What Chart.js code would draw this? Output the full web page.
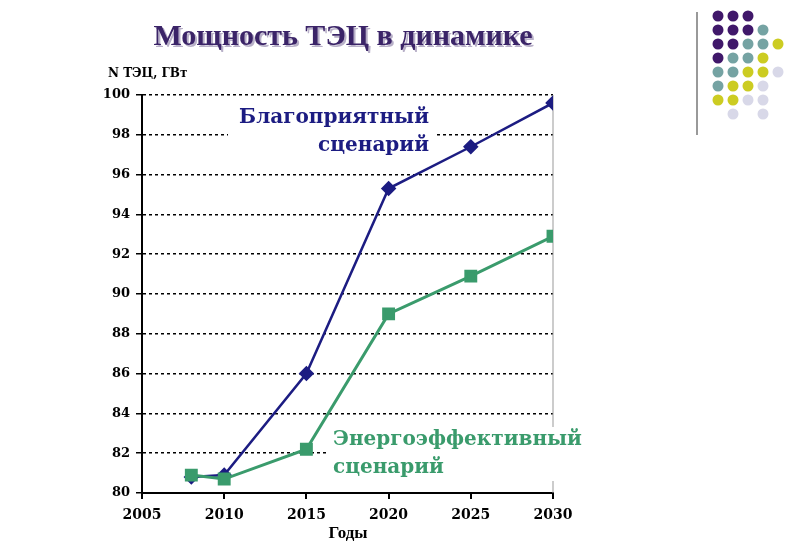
<!DOCTYPE html>
<html>
<head>
<meta charset="utf-8">
<script src="https://cdn.jsdelivr.net/npm/chart.js@4"></script>
<style>
body { margin: 0; background: #fff; }
#wrap { position: relative; width: 800px; height: 554px; }
</style>
</head>
<body>
<div id="wrap"><canvas id="chart" width="800" height="554"></canvas></div>
<script>
var years = [2008, 2010, 2015, 2020, 2025, 2030];
var favorable = [80.8, 80.9, 86.0, 95.3, 97.4, 99.6];
var efficient = [80.9, 80.7, 82.2, 89.0, 90.9, 92.9];
var xTicks = [2005, 2010, 2015, 2020, 2025, 2030];

var NAVY = '#1c1c82';
var GREEN = '#3a9b6c';
var SERIF = '"Liberation Serif", "DejaVu Serif", serif';
var WIDE = '"DejaVu Serif", serif';

function toPoints(vals) {
    var pts = [];
    for (var i = 0; i < years.length; i++) pts.push({ x: years[i], y: vals[i] });
    return pts;
}

var dots = [
    'PPP  ', 'PPPT ', 'PPTTY', 'PTTY ', 'TTYYL', 'TYYL ', 'YYLL ', ' L L '
];
var dotColors = { P: '#40186a', T: '#75a3a3', Y: '#cccc22', L: '#d8d8e8' };

var decor = {
    id: 'decor',
    beforeDatasetsDraw: function(chart) {
        var ctx = chart.ctx, a = chart.chartArea;
        ctx.save();
        // right frame line
        ctx.strokeStyle = '#999';
        ctx.lineWidth = 1;
        ctx.beginPath(); ctx.moveTo(a.right, a.top); ctx.lineTo(a.right, a.bottom); ctx.stroke();
        // label backgrounds hide grid
        ctx.fillStyle = '#fff';
        ctx.fillRect(228, 104, 206, 54);
        ctx.fillRect(328, 427, 270, 54);
        ctx.font = 'bold 20px ' + WIDE;
        ctx.textBaseline = 'middle';
        ctx.textAlign = 'right';
        ctx.fillStyle = NAVY;
        ctx.fillText('Благоприятный', 429, 118);
        ctx.fillText('сценарий', 429, 146);
        ctx.textAlign = 'left';
        ctx.fillStyle = GREEN;
        ctx.fillText('Энергоэффективный', 333, 440);
        ctx.fillText('сценарий', 333, 468);
        ctx.restore();
    },
    afterDraw: function(chart) {
        var ctx = chart.ctx;
        ctx.save();
        // title
        ctx.font = 'bold 30px ' + SERIF;
        ctx.textAlign = 'center';
        ctx.textBaseline = 'middle';
        ctx.fillStyle = '#b8b0c8';
        ctx.fillText('Мощность ТЭЦ в динамике', 345, 39);
        ctx.fillStyle = '#3b2468';
        ctx.fillText('Мощность ТЭЦ в динамике', 343, 37);
        // axis titles
        ctx.fillStyle = '#000';
        ctx.font = 'bold 12px ' + WIDE;
        ctx.textAlign = 'left';
        ctx.fillText('N ТЭЦ, ГВт', 108, 74);
        ctx.font = 'bold 17px ' + SERIF;
        ctx.textAlign = 'center';
        ctx.fillText('Годы', 348, 534);
        // side decoration
        ctx.strokeStyle = '#777';
        ctx.lineWidth = 1.5;
        ctx.beginPath(); ctx.moveTo(697, 12); ctx.lineTo(697, 135); ctx.stroke();
        for (var r = 0; r < dots.length; r++) {
            for (var c = 0; c < dots[r].length; c++) {
                var k = dots[r][c];
                if (k === ' ') continue;
                ctx.fillStyle = dotColors[k];
                ctx.beginPath();
                ctx.arc(718 + c * 15, 16 + r * 14, 5.5, 0, Math.PI * 2);
                ctx.fill();
            }
        }
        ctx.restore();
    }
};

new Chart(document.getElementById('chart'), {
    type: 'line',
    data: {
        datasets: [
            {
                label: 'Благоприятный сценарий',
                data: toPoints(favorable),
                borderColor: NAVY,
                backgroundColor: NAVY,
                borderWidth: 2.5,
                pointStyle: 'rectRot',
                pointRadius: 6,
                tension: 0,
                order: 2
            },
            {
                label: 'Энергоэффективный сценарий',
                data: toPoints(efficient),
                borderColor: GREEN,
                backgroundColor: GREEN,
                borderWidth: 3,
                pointStyle: 'rect',
                pointRadius: 7,
                tension: 0,
                order: 1
            }
        ]
    },
    options: {
        responsive: false,
        animation: false,
        layout: { padding: { left: 0, right: 247, top: 95, bottom: 0 } },
        plugins: { legend: { display: false }, tooltip: { enabled: false } },
        scales: {
            x: {
                type: 'linear',
                min: 2005,
                max: 2030,
                afterBuildTicks: function(axis) {
                    axis.ticks = xTicks.map(function(v) { return { value: v }; });
                },
                afterFit: function(axis) { axis.height = 61; },
                ticks: { color: '#000', font: { family: WIDE, size: 14, weight: 'bold' }, padding: 8, maxRotation: 0,
                    callback: function(v) { return String(v); } },
                grid: { drawOnChartArea: false, color: '#000', tickLength: 6, lineWidth: 2 },
                border: { color: '#000', width: 2 }
            },
            y: {
                min: 80,
                max: 100,
                ticks: { stepSize: 2, color: '#000', font: { family: WIDE, size: 13, weight: 'bold' }, padding: 6 },
                afterFit: function(axis) { axis.width = 142; },
                grid: { color: '#000', lineWidth: 1.5, tickLength: 6, tickBorderDash: [], tickColor: '#000' },
                border: { color: '#000', width: 2, dash: [3, 3] }
            }
        }
    },
    plugins: [decor]
});
</script>
</body>
</html>
